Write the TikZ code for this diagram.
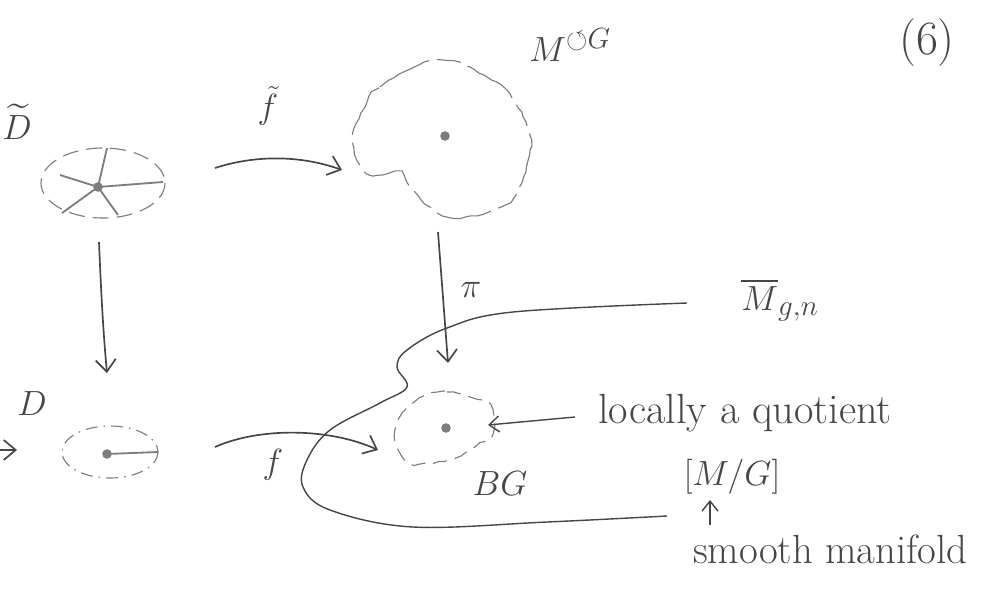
\documentclass[tikz,border=0pt]{standalone}
\usepackage{amsmath,amssymb}
\usetikzlibrary{arrows.meta, decorations.pathmorphing}
\definecolor{pencil}{RGB}{70,70,70}
\definecolor{lead}{RGB}{125,125,125}
\tikzset{
  lbl/.style={font=\fontsize{28}{32}\selectfont, text=pencil, inner sep=0pt},
  note/.style={font=\fontsize{30}{34}\selectfont, text=pencil, inner sep=0pt},
  mapto/.style={-{Straight Barb[length=3mm, width=5mm]}, line width=1.2pt, pencil},
  hint/.style={-{Straight Barb[length=2.5mm, width=4mm]}, line width=1pt, pencil},
  rim/.style={lead, line width=0.8pt},
  wobbly/.style={lead, line width=0.8pt, decorate,
                 decoration={random steps, segment length=4pt, amplitude=0.6pt}},
  spoke/.style={lead, line width=1.3pt},
  pt/.style={circle, fill=lead, inner sep=0pt, minimum size=2.4mm},
  outline/.style={pencil, line width=1pt},
}

\begin{document}
\begin{tikzpicture}[x=0.025cm, y=-0.025cm]
  \useasboundingbox (0,0) rectangle (981,592);
  % the four spaces
  \node[pt] (dt) at (98,187) {};
  \node[pt] (d)  at (107,454) {};
  \node[pt] (m)  at (445,136) {};
  \node[pt] (bg) at (446,428) {};
  \draw[rim, dash pattern=on 4mm off 2mm] (103,183) ellipse [x radius=62, y radius=35];
  \foreach \p in {(163,182),(107,148),(60,175),(62,213),(118,215)}
    \draw[spoke] (dt.center) -- \p;
  \draw[rim, dash pattern=on 3mm off 1.5mm on 0.4mm off 1.5mm] (110,452) ellipse [x radius=48, y radius=26];
  \draw[spoke] (d.center) -- (158,452);
  \draw[wobbly, dash pattern=on 14mm off 2mm on 6mm off 2mm] plot[smooth cycle, tension=0.7] coordinates
    {(365,107) (380,87) (437,60) (487,77) (512,98) (528,130) (530,150) (517,193) (493,210)
     (453,218) (430,207) (410,187) (400,173) (367,173) (353,140)};
  \draw[wobbly, dash pattern=on 3.5mm off 2mm] plot[smooth cycle, tension=0.7] coordinates
    {(427,395) (447,392) (470,397) (490,405) (493,433) (480,443) (455,458) (430,463)
     (410,463) (397,447) (397,423) (410,405)};
  % moduli space
  \draw[outline] plot[smooth, tension=0.6] coordinates
    {(687,303) (513,312) (447,328) (407,350) (397,367) (407,387) (380,403) (330,430)
     (307,460) (303,487) (330,510) (413,527) (547,522) (667,516)};
  % labels
  \node[lbl] (Ldt) at (17,122) {$\widetilde{D}$};
  \node[lbl] (Ld)  at (32,404) {$D$};
  \node[lbl] (Lm)  at (570,45) {$M^{\circlearrowleft G}$};
  \node[lbl] (Lbg) at (500,484) {$BG$};
  \node[lbl] (Lmg) at (780,300) {$\overline{M}_{g,n}$};
  \node[lbl, font=\fontsize{34}{38}\selectfont] (eq) at (927,43) {(6)};
  % maps
  \coordinate (ft0) at (215,168); \coordinate (ft1) at (342,170);
  \coordinate (f0) at (215,447);  \coordinate (f1) at (378,450);
  \coordinate (p0) at (438,232);  \coordinate (p1) at (448,363);
  \coordinate (v0) at (99,242);   \coordinate (v1) at (107,373);
  \coordinate (in) at (0,450);    \coordinate (in1) at (17,450);
  \draw[mapto] (ft0) .. controls (255,155) and (300,155) .. (ft1);
  \node[lbl] (Lft) at (268,106) {$\tilde{f}$};
  \draw[mapto] (f0) .. controls (260,427) and (330,428) .. (f1);
  \node[lbl] (Lf) at (273,465) {$f$};
  \draw[mapto] (p0) -- (p1);
  \node[lbl] (Lp) at (471,290) {$\pi$};
  \draw[mapto] (v0) .. controls (101,290) and (103,330) .. (v1);
  \draw[mapto] (in) -- (in1);
  % side notes
  \node[note, anchor=base west] (loc) at (598,423) {locally a quotient};
  \coordinate (loc0) at (575,417); \coordinate (loc1) at (488,425);
  \draw[hint] (loc0) -- (loc1);
  \node[note, font=\fontsize{32}{36}\selectfont] (quot) at (732,477) {$[M/G]$};
  \node[note, font=\fontsize{29}{34}\selectfont, anchor=base west] (smooth) at (693,563) {smooth manifold};
  \coordinate (sm0) at (710,525); \coordinate (sm1) at (710,500);
  \draw[hint] (sm0) -- (sm1);
\end{tikzpicture}
\end{document}
